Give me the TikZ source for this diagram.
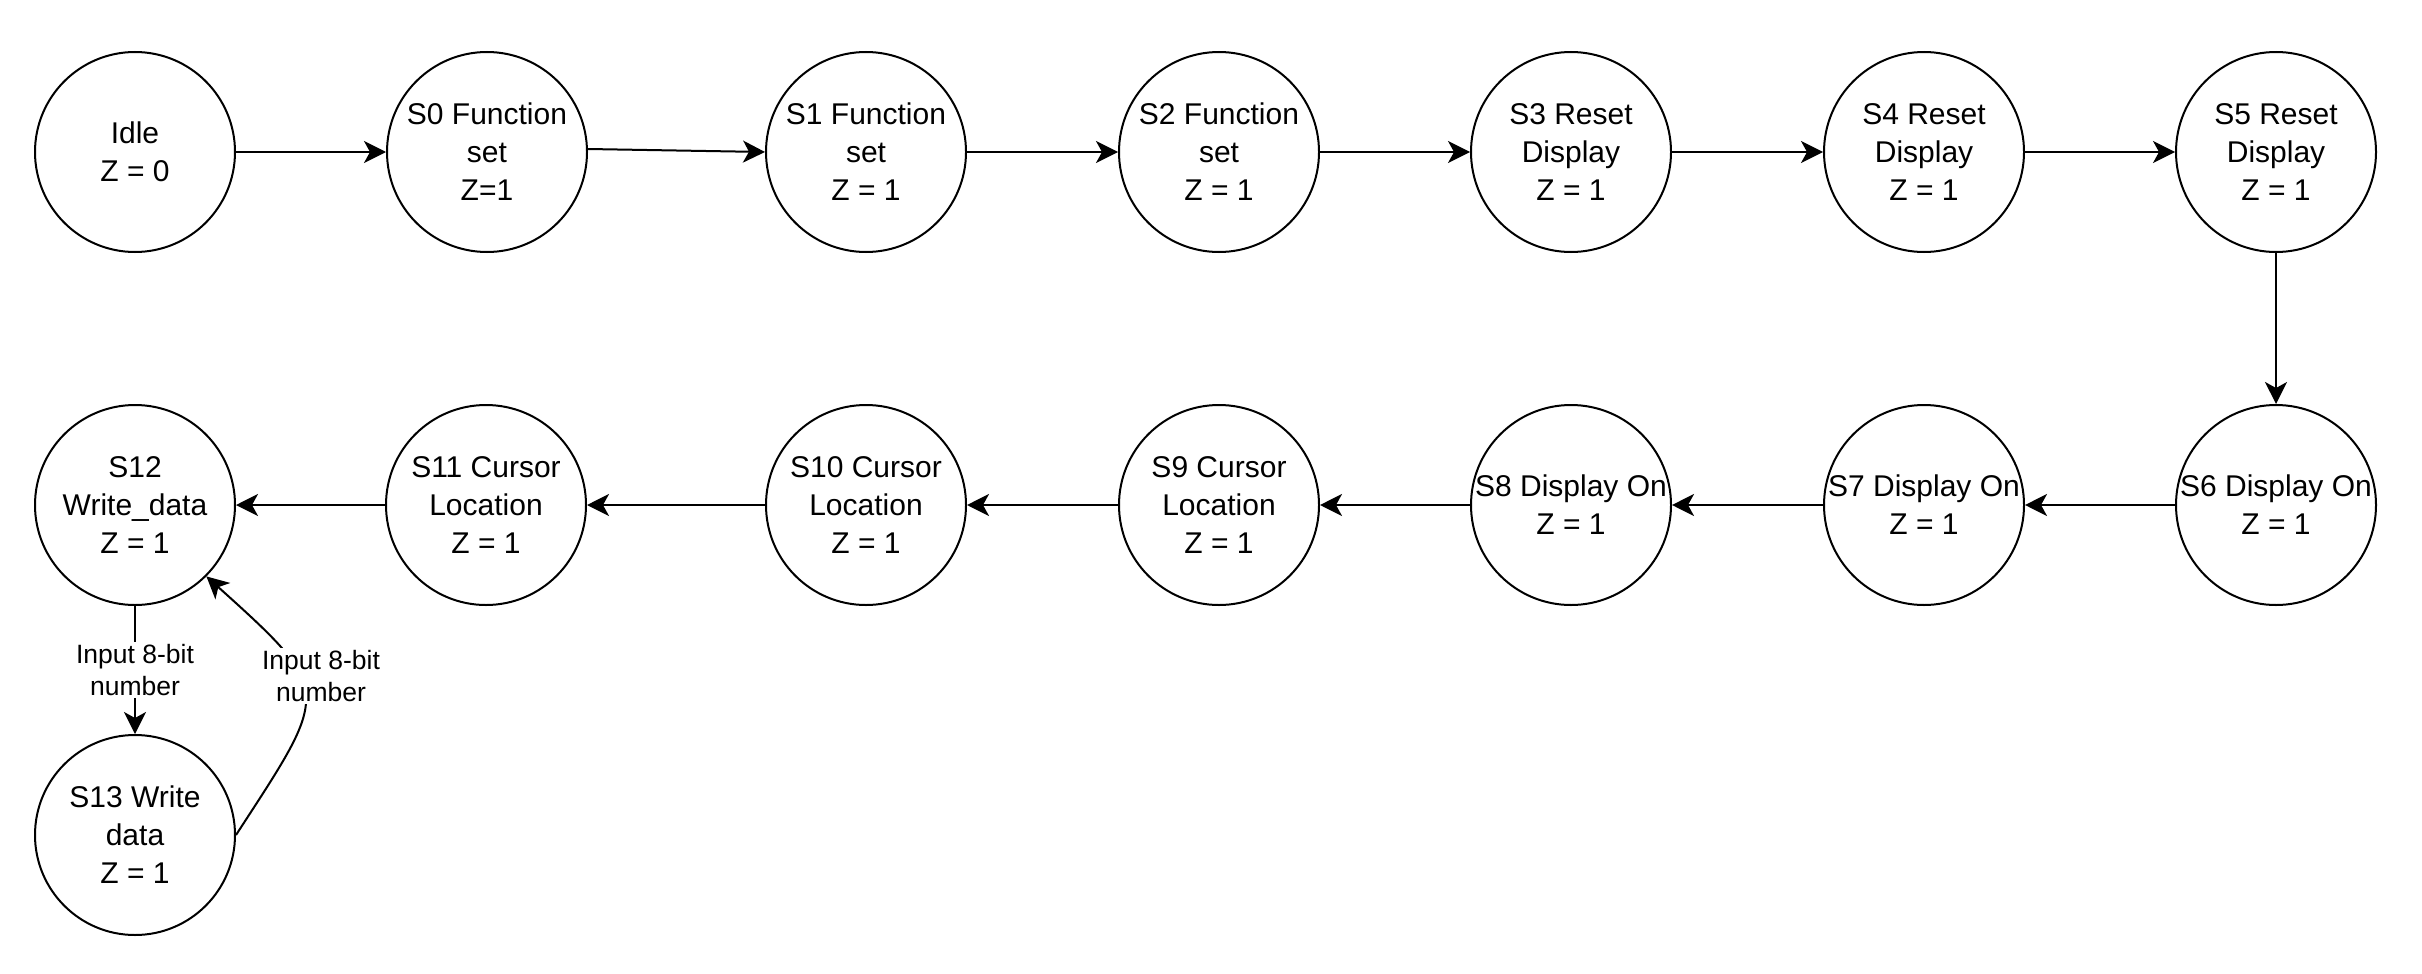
\documentclass[tikz,border=0pt]{standalone}
\usepackage{fontspec}
\setmainfont{Liberation Sans}
\usepackage{tikz}
\usetikzlibrary{arrows.meta}
\tikzstyle{State}=[circle,draw=black,line width=2pt,minimum size=200pt,
inner sep=-20pt,align=center,font=\fontsize{30}{38}\selectfont]
\tikzstyle{Edge}=[draw=black,line width=2pt,
-{Stealth[length=22pt,width=22pt,inset=6pt]}]
\tikzstyle{EdgeLabel}=[fill=white,inner sep=2pt,align=center,
font=\fontsize{26.5}{32.4}\selectfont]

\begin{document}
\begin{tikzpicture}[x=1pt,y=1pt]
        \useasboundingbox(0,0)rectangle(2422,-974);
        % first row
        \node[State](Idle)at(135,-152){Idle\\Z = 0};
        \node[State](S0)at(487,-152){S0 Function\\set\\Z=1};
        \node[State](S1)at(866,-152){S1 Function\\set\\Z = 1};
        \node[State](S2)at(1219,-152){S2 Function\\set\\Z = 1};
        \node[State](S3)at(1571,-152){S3 Reset\\Display\\Z = 1};
        \node[State](S4)at(1924,-152){S4 Reset\\Display\\Z = 1};
        \node[State](S5)at(2276,-152){S5 Reset\\Display\\Z = 1};
        % second row
        \node[State](S6)at(2276,-505){S6 Display On\\Z = 1};
        \node[State](S7)at(1924,-505){S7 Display On\\Z = 1};
        \node[State](S8)at(1571,-505){S8 Display On\\Z = 1};
        \node[State](S9)at(1219,-505){S9 Cursor\\Location\\Z = 1};
        \node[State](S10)at(866,-505){S10 Cursor\\Location\\Z = 1};
        \node[State](S11)at(486,-505){S11 Cursor\\Location\\Z = 1};
        \node[State](S12)at(135,-505){S12\\Write\_data\\Z = 1};
        \node[State](S13)at(135,-835){S13 Write\\data\\Z = 1};
        \draw[Edge](Idle)--(S0);
        \draw[Edge]([yshift=3pt]S0.east)--(S1.west);
        \draw[Edge](S1)--(S2);
        \draw[Edge](S2)--(S3);
        \draw[Edge](S3)--(S4);
        \draw[Edge](S4)--(S5);
        \draw[Edge](S5)--(S6);
        \draw[Edge](S6)--(S7);
        \draw[Edge](S7)--(S8);
        \draw[Edge](S8)--(S9);
        \draw[Edge](S9)--(S10);
        \draw[Edge](S10)--(S11);
        \draw[Edge](S11)--(S12);
        \draw[Edge](S12)--node[EdgeLabel](in1){Input 8-bit\\number}(S13);
        \draw[Edge](S13.east)to[out=57,in=-42,looseness=1.7](S12.south east);
        \node[EdgeLabel](in2)at(321,-676){Input 8-bit\\number};
    \end{tikzpicture}
\end{document}
